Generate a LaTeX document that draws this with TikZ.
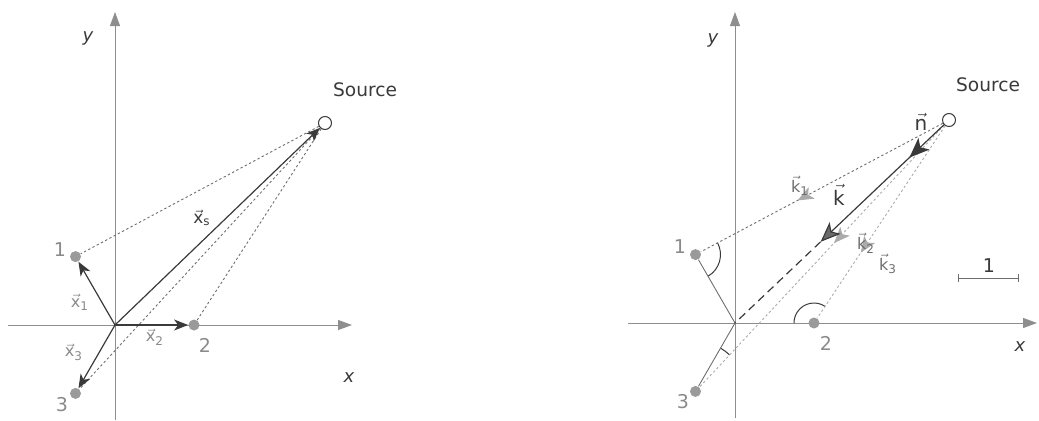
\documentclass[tikz,border=0pt]{standalone}
\usepackage{amsmath}
\usepackage{fontspec}
\setmainfont{DejaVu Sans}
\usetikzlibrary{arrows.meta,angles,decorations.markings,calc}
\definecolor{axisgray}{HTML}{8E8E8E}
\definecolor{dotgray}{HTML}{9A9A9A}
\definecolor{vecdark}{HTML}{3A3A3A}
\definecolor{linegray}{HTML}{6E6E6E}
\definecolor{lightline}{HTML}{ABABAB}
\definecolor{labgray}{HTML}{8A8A8A}
\newcommand\vlab[2]{$\vec{\text{#1}}_{\text{#2}}$}
\newcommand\vsol[1]{$\vec{\text{#1}}$}
\begin{document}
\begin{tikzpicture}[x=0.5pt,y=0.5pt,
  axisline/.style={draw=axisgray, line width=0.5pt, -{Triangle[length=7pt,width=5pt]}},
  sensor/.style={circle, fill=dotgray, inner sep=0pt, minimum size=5.5pt},
  srcnode/.style={circle, draw=vecdark, fill=white, line width=0.5pt, inner sep=0pt, minimum size=6.5pt},
  vecarrow/.style={draw=vecdark, line width=0.6pt, -{Stealth[length=7pt,width=5.5pt,inset=2pt]}},
  sight/.style={draw=linegray, line width=0.45pt, dash pattern=on 1.2pt off 1.2pt},
  lightsight/.style={draw=lightline, line width=0.45pt, dash pattern=on 1.2pt off 1.2pt},
  thinline/.style={draw=linegray, line width=0.45pt},
  numlab/.style={text=labgray, font=\fontsize{9.5}{11}\selectfont, inner sep=0pt},
  veclab/.style={text=labgray, font=\fontsize{8}{9}\selectfont, inner sep=0pt},
  axislab/.style={text=vecdark, font=\fontsize{9}{10}\itshape, inner sep=0pt},
  srclab/.style={text=vecdark, font=\fontsize{9.3}{11}\selectfont, inner sep=0pt},
  biglab/.style={text=vecdark, font=\fontsize{10}{12}\selectfont, inner sep=0pt},
  midarrow/.style={postaction={decorate}, decoration={markings,
     mark=at position #1 with {\arrow[solid, draw=lightline, fill=lightline!70]{Stealth[length=8pt,width=6.5pt,inset=2pt]}}}},
  bigmark/.style={postaction={decorate}, decoration={markings,
     mark=at position #1 with {\arrow[solid, draw=vecdark, fill=vecdark!75]{Stealth[length=10pt,width=8pt,inset=2.5pt]}}}},
  anglemark/.style={draw=vecdark, line width=0.5pt}
]
\useasboundingbox (0,0) rectangle (1039,420);

% ================= LEFT PANEL =================
\begin{scope}[shift={(115,95)}]
  \coordinate (lO) at (0,0);
  \coordinate (lxs) at (-107,0);
  \coordinate (lxe) at (237,0);
  \coordinate (lys) at (0,-95);
  \coordinate (lye) at (0,313);
  \draw[axisline] (lxs) -- (lxe);
  \draw[axisline] (lys) -- (lye);
  \node[sensor] (ls1) at (120:79) {};
  \node[sensor] (ls2) at (0:79) {};
  \node[sensor] (ls3) at (240:79) {};
  \node[srcnode] (lq) at (210,202) {};
  \draw[sight] (lq) -- (ls1);
  \draw[sight] (lq) -- (ls2);
  \draw[sight] (lq) -- (ls3);
  \draw[vecarrow] (lO) -- (ls1);
  \draw[vecarrow] (lO) -- (ls2);
  \draw[vecarrow] (lO) -- (ls3);
  \draw[vecarrow] (lO) -- (lq);
  \node[numlab] (ln1) at (-55,75) {1};
  \node[numlab] (ln2) at (90,-20) {2};
  \node[numlab] (ln3) at (-53,-80) {3};
  \node[axislab] (lylab) at (-27,287) {y};
  \node[axislab] (lxlab) at (234,-53) {x};
  \node[srclab] (lsrc) at (250,235) {Source};
  \node[veclab] (lx1) at (-35,23) {\vlab{x}{1}};
  \node[veclab] (lx2) at (40,-12) {\vlab{x}{2}};
  \node[veclab] (lx3) at (-41,-27) {\vlab{x}{3}};
  \node[veclab, text=vecdark, font=\fontsize{8.5}{10}\selectfont] (lxsl) at (87,107) {\vlab{x}{s}};
\end{scope}

% ================= RIGHT PANEL =================
\begin{scope}[shift={(735,97)}]
  \coordinate (rO) at (0,0);
  \coordinate (rxs) at (-107,0);
  \coordinate (rxe) at (302,0);
  \coordinate (rys) at (0,-95);
  \coordinate (rye) at (0,311);
  \draw[axisline] (rxs) -- (rxe);
  \draw[axisline] (rys) -- (rye);
  \coordinate (rs1c) at (120:79);
  \coordinate (rs2c) at (0:79);
  \coordinate (rs3c) at (240:79);
  \coordinate (rqc) at (214,203);
  \coordinate (rK) at ($(rO)!0.4!(rqc)$);
  % angle marks
  \pic[anglemark, angle radius=12.5pt] {angle = rO--rs1c--rqc};
  \pic[anglemark, angle radius=10pt] {angle = rqc--rs2c--rO};
  \pic[anglemark, angle radius=25pt] {angle = rqc--rs3c--rO};
  \node[sensor] (rs1) at (rs1c) {};
  \node[sensor] (rs2) at (rs2c) {};
  \node[sensor] (rs3) at (rs3c) {};
  \node[srcnode] (rq) at (rqc) {};
  \draw[thinline] (rO) -- (rs1);
  \draw[thinline] (rO) -- (rs3);
  \draw[sight, midarrow=0.6] (rq) -- (rs1);
  \draw[lightsight, midarrow=0.66] (rq) -- (rs2);
  \draw[lightsight, midarrow=0.45] (rq) -- (rs3);
  \draw[vecdark, line width=0.6pt, bigmark=0.28, -{Stealth[length=10pt,width=8pt,inset=2.5pt,fill=vecdark!75]}] (rq) -- (rK);
  \draw[vecdark, line width=0.6pt, dash pattern=on 4pt off 2.5pt] (rK) -- (rO);
  % scale bar
  \coordinate (sb1) at (223,45);
  \coordinate (sb2) at (284,45);
  \draw[linegray, line width=0.45pt, {Bar[width=4pt]}-{Bar[width=4pt]}] (sb1) -- (sb2);
  \node[numlab, text=vecdark] (sblab) at (254,57) {1};
  % labels
  \node[numlab] (rn1) at (-55,76) {1};
  \node[numlab] (rn2) at (91,-20) {2};
  \node[numlab] (rn3) at (-52,-79) {3};
  \node[axislab] (rylab) at (-22,283) {y};
  \node[axislab] (rxlab) at (285,-24) {x};
  \node[srclab] (rsrc) at (253,238) {Source};
  \node[veclab, text=linegray] (rk1) at (65,137) {\vlab{k}{1}};
  \node[veclab, text=linegray] (rk2) at (131,80) {\vlab{k}{2}};
  \node[veclab, text=linegray] (rk3) at (153,59) {\vlab{k}{3}};
  \node[biglab] (rk) at (104,128) {\vsol{k}};
  \node[biglab] (rn) at (186,201) {\vsol{n}};
\end{scope}
\end{tikzpicture}
\end{document}
